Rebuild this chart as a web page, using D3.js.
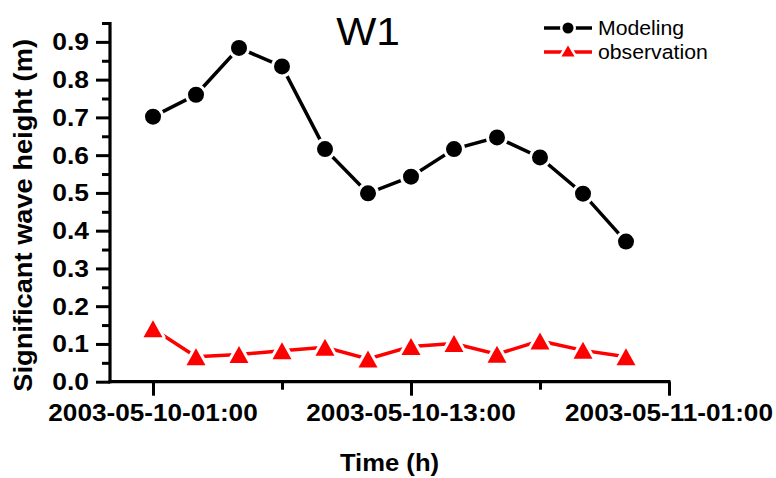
<!DOCTYPE html>
<html>
<head>
<meta charset="utf-8">
<script src="https://cdn.jsdelivr.net/npm/d3@7/dist/d3.min.js"></script>
<style>
  html, body { margin: 0; padding: 0; background: #fff; }
  svg { display: block; }
  text { font-family: "Liberation Sans", Arial, sans-serif; }
</style>
</head>
<body>
<svg id="chart" width="776" height="478"></svg>
<script>
// ---- data ----
const times = [
  "2003-05-10 01:00", "2003-05-10 03:00", "2003-05-10 05:00", "2003-05-10 07:00",
  "2003-05-10 09:00", "2003-05-10 11:00", "2003-05-10 13:00", "2003-05-10 15:00",
  "2003-05-10 17:00", "2003-05-10 19:00", "2003-05-10 21:00", "2003-05-10 23:00"
];
const modeling    = [0.702, 0.760, 0.884, 0.835, 0.616, 0.499, 0.543, 0.616, 0.647, 0.594, 0.498, 0.371];
const observation = [0.140, 0.066, 0.072, 0.082, 0.091, 0.060, 0.093, 0.101, 0.073, 0.108, 0.083, 0.066];
const xMajorTicks = ["2003-05-10 01:00", "2003-05-10 13:00", "2003-05-11 01:00"];
const xMajorLabels = ["2003-05-10-01:00", "2003-05-10-13:00", "2003-05-11-01:00"];
const xMinorTicks = ["2003-05-10 07:00", "2003-05-10 19:00"];
const xDomain = ["2003-05-09 23:00", "2003-05-11 01:00"];
const yMajorTicks = [0, 0.1, 0.2, 0.3, 0.4, 0.5, 0.6, 0.7, 0.8, 0.9];
const yMinorTicks = [0.05, 0.15, 0.25, 0.35, 0.45, 0.55, 0.65, 0.75, 0.85, 0.95];
const yDomain = [0, 0.95];
const seriesNames = ["Modeling", "observation"];
const titleText = "W1";
const xTitle = "Time (h)";
const yTitle = "Significant wave height (m)";

// ---- setup ----
const parse = d3.timeParse("%Y-%m-%d %H:%M");
const svg = d3.select("#chart");
const SX = 1.09; // horizontal text stretch seen in the reference
const L = 110, R = 669, T = 23, B = 381.7;

const x = d3.scaleTime().domain(xDomain.map(parse)).range([L, R]);
const y = d3.scaleLinear().domain(yDomain).range([B, T]);

function stretchedText(g, px, py, str, opts) {
  const t = g.append("text")
    .attr("transform", `translate(${px},${py}) scale(${opts.sx || SX},1)`)
    .attr("text-anchor", opts.anchor || "start")
    .attr("font-size", opts.size)
    .attr("font-weight", opts.weight || "normal")
    .attr("fill", "#000")
    .text(str);
  return t;
}

// ---- axes ----
const axisG = svg.append("g");
const yAxisMajor = d3.axisLeft(y).tickValues(yMajorTicks).tickSize(14).tickFormat("");
const yAxisMinor = d3.axisLeft(y).tickValues(yMinorTicks).tickSize(8).tickFormat("");
const gy1 = axisG.append("g").attr("transform", `translate(${L},0)`).call(yAxisMajor);
const gy2 = axisG.append("g").attr("transform", `translate(${L},0)`).call(yAxisMinor);
const xAxisMajor = d3.axisBottom(x).tickValues(xMajorTicks.map(parse)).tickSize(14).tickFormat("");
const xAxisMinor = d3.axisBottom(x).tickValues(xMinorTicks.map(parse)).tickSize(8).tickFormat("");
const gx1 = axisG.append("g").attr("transform", `translate(0,${B})`).call(xAxisMajor);
const gx2 = axisG.append("g").attr("transform", `translate(0,${B})`).call(xAxisMinor);
[gy1, gy2, gx1, gx2].forEach(g => {
  g.select(".domain").remove();
  g.selectAll(".tick line").attr("stroke", "#000").attr("stroke-width", 3);
});
axisG.append("line").attr("x1", L).attr("x2", L).attr("y1", T - 1).attr("y2", B + 1.5)
  .attr("stroke", "#000").attr("stroke-width", 3.2);
axisG.append("line").attr("x1", L - 1.5).attr("x2", R + 1.5).attr("y1", B).attr("y2", B)
  .attr("stroke", "#000").attr("stroke-width", 3.2);

// tick labels
yMajorTicks.forEach(v => {
  stretchedText(axisG, 89, y(v) + 8.5, d3.format(".1f")(v), {anchor: "end", size: 24, weight: "bold", sx: 1.1});
});
xMajorTicks.forEach((d, i) => {
  stretchedText(axisG, x(parse(d)), 421, xMajorLabels[i], {anchor: "middle", size: 24, weight: "bold"});
});

// axis titles
stretchedText(svg, (L + R) / 2, 471, xTitle, {anchor: "middle", size: 23.5, weight: "bold"});
svg.append("text")
  .attr("transform", `translate(32,${(T + B) / 2 + 13}) rotate(-90) scale(1.09,1.03)`)
  .attr("text-anchor", "middle")
  .attr("font-size", 25)
  .attr("font-weight", "bold")
  .text(yTitle);

// title
stretchedText(svg, 368, 45, titleText, {anchor: "middle", size: 39});

// ---- series ----
const ptsM = times.map((t, i) => ({t: parse(t), v: modeling[i]}));
const ptsO = times.map((t, i) => ({t: parse(t), v: observation[i]}));
const line = d3.line().x(d => x(d.t)).y(d => y(d.v));

const triPath = (w, h) => `M0,${-h / 2}L${w / 2},${h / 2}L${-w / 2},${h / 2}Z`;

// observation
svg.append("path").datum(ptsO).attr("d", line)
  .attr("fill", "none").attr("stroke", "#ff0000").attr("stroke-width", 3.5);
svg.append("g").selectAll("path").data(ptsO).join("path")
  .attr("transform", d => `translate(${x(d.t)},${y(d.v)})`)
  .attr("d", triPath(19, 17))
  .attr("fill", "#ff0000").attr("stroke", "#fff").attr("stroke-width", 6)
  .attr("stroke-linejoin", "round").attr("paint-order", "stroke");

// modeling
svg.append("path").datum(ptsM).attr("d", line)
  .attr("fill", "none").attr("stroke", "#000").attr("stroke-width", 3.5);
svg.append("g").selectAll("circle").data(ptsM).join("circle")
  .attr("cx", d => x(d.t)).attr("cy", d => y(d.v)).attr("r", 8)
  .attr("fill", "#000").attr("stroke", "#fff").attr("stroke-width", 6)
  .attr("paint-order", "stroke");

// ---- legend ----
const leg = svg.append("g");
const legendRows = [
  {name: seriesNames[0], color: "#000", shape: "circle", y: 28},
  {name: seriesNames[1], color: "#ff0000", shape: "tri", y: 52}
];
legendRows.forEach(r => {
  leg.append("line").attr("x1", 544).attr("x2", 592).attr("y1", r.y).attr("y2", r.y)
    .attr("stroke", r.color).attr("stroke-width", 3.5);
  if (r.shape === "circle") {
    leg.append("circle").attr("cx", 568).attr("cy", r.y).attr("r", 5.5)
      .attr("fill", r.color).attr("stroke", "#fff").attr("stroke-width", 5).attr("paint-order", "stroke");
  } else {
    leg.append("path").attr("transform", `translate(568,${r.y - 1})`).attr("d", triPath(13, 11))
      .attr("fill", r.color).attr("stroke", "#fff").attr("stroke-width", 5)
      .attr("stroke-linejoin", "round").attr("paint-order", "stroke");
  }
  stretchedText(leg, 598, r.y + 7, r.name, {size: 19.5});
});
</script>
</body>
</html>
